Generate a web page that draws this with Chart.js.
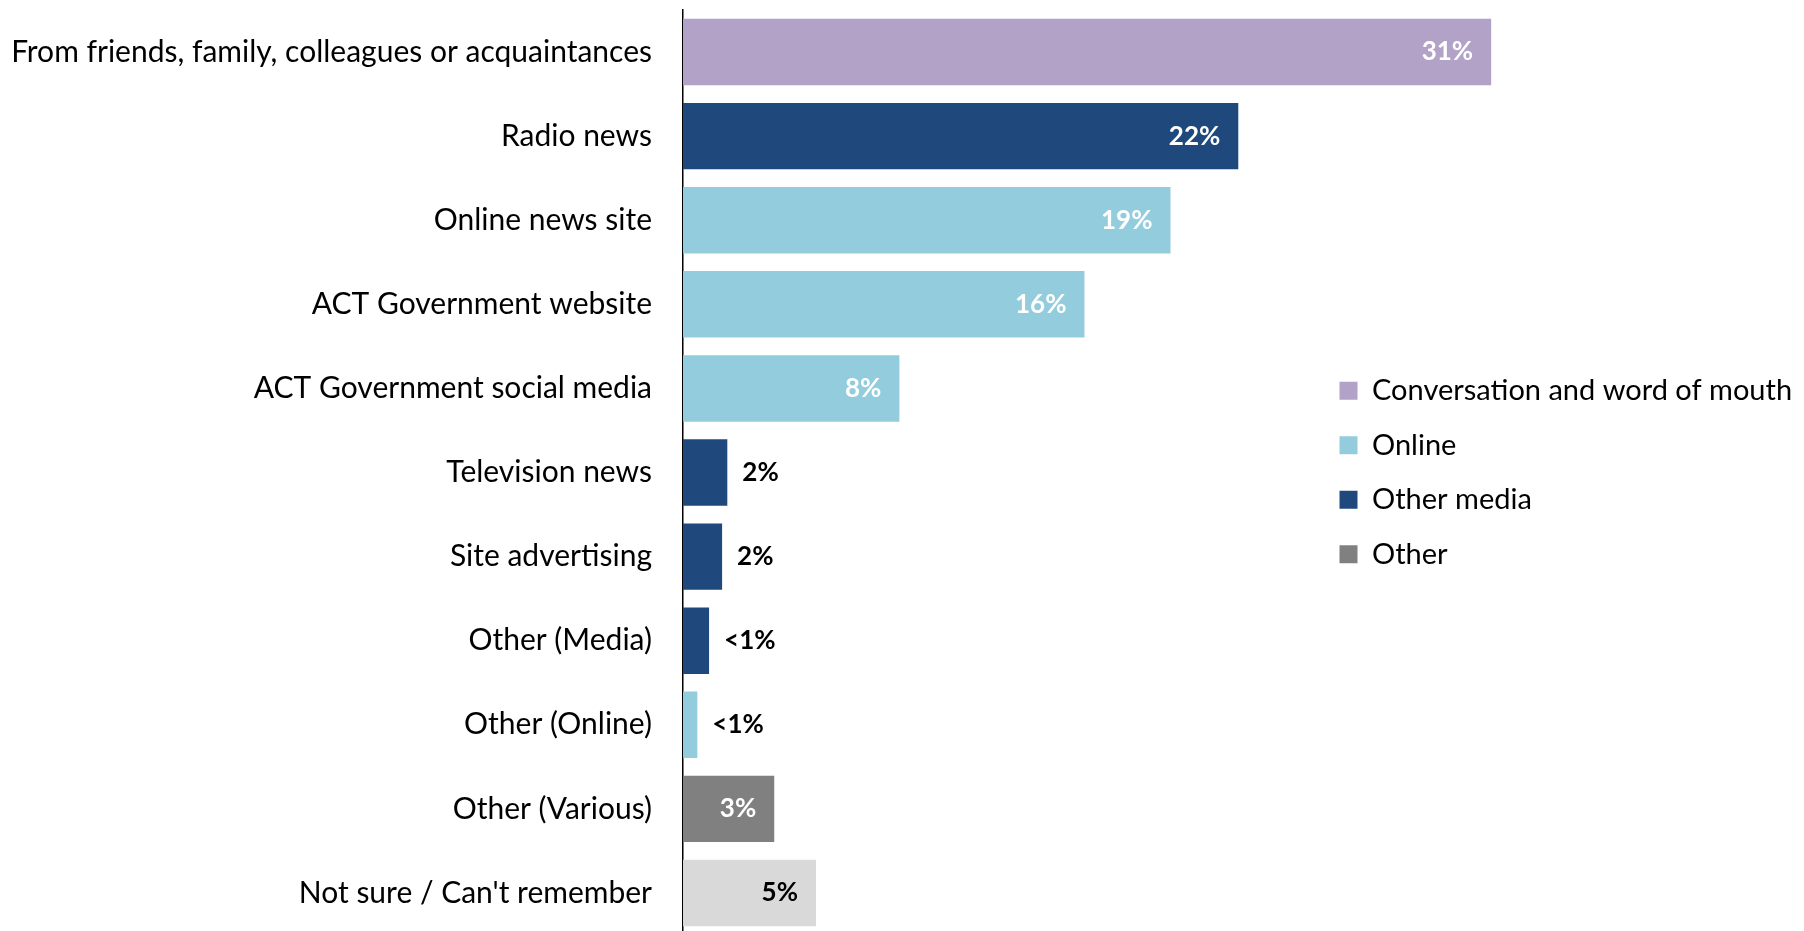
<!DOCTYPE html>
<html>
<head>
<meta charset="utf-8">
<script src="https://cdn.jsdelivr.net/npm/chart.js@4.4.0/dist/chart.umd.min.js"></script>
<style>
  html, body { margin: 0; padding: 0; background: #fff; overflow: hidden; }
  #wrap { width: 1804px; height: 935px; position: relative; }
</style>
</head>
<body>
<div id="wrap"><canvas id="chart"></canvas></div>
<script>
// categories, top to bottom
const categories = [
  'From friends, family, colleagues or acquaintances',
  'Radio news',
  'Online news site',
  'ACT Government website',
  'ACT Government social media',
  'Television news',
  'Site advertising',
  'Other (Media)',
  'Other (Online)',
  'Other (Various)',
  "Not sure / Can't remember"
];
// which legend group each bar belongs to
const groupOf = [
  'Conversation and word of mouth', 'Other media', 'Online', 'Online', 'Online',
  'Other media', 'Other media', 'Other media', 'Online', 'Other', 'Not sure'
];
// bar lengths (%)
const shares = [31, 21.3, 18.7, 15.4, 8.3, 1.7, 1.5, 1.0, 0.55, 3.5, 5.1];
// printed labels
const shareLabels = ['31%', '22%', '19%', '16%', '8%', '2%', '2%', '<1%', '<1%', '3%', '5%'];

const groups = ['Conversation and word of mouth', 'Online', 'Other media', 'Other', 'Not sure'];
const groupColors = ['#B3A2C7', '#93CDDD', '#1F497D', '#808080', '#D9D9D9'];

const FONT = 'Lato, "Open Sans", sans-serif';

const datasets = groups.map((g, k) => ({
  label: g,
  data: shares.map((v, i) => groupOf[i] === g ? v : null),
  backgroundColor: groupColors[k],
  borderWidth: 0,
  barPercentage: 0.79,
  categoryPercentage: 1
}));

// value labels: inside end (white) for long bars, just past the end for short ones
const valueLabels = {
  id: 'valueLabels',
  afterDatasetsDraw(chart) {
    const ctx = chart.ctx;
    ctx.save();
    ctx.font = 'bold 26px ' + FONT;
    ctx.textBaseline = 'middle';
    chart.data.datasets.forEach((ds, di) => {
      const meta = chart.getDatasetMeta(di);
      meta.data.forEach((bar, i) => {
        const v = ds.data[i];
        if (v === null) return;
        if (v >= 3) {
          ctx.textAlign = 'right';
          ctx.fillStyle = ds.label === 'Not sure' ? '#000' : '#fff';
          ctx.fillText(shareLabels[i], bar.x - 18, bar.y);
        } else {
          ctx.textAlign = 'left';
          ctx.fillStyle = '#000';
          ctx.fillText(shareLabels[i], bar.x + 15, bar.y);
        }
      });
    });
    ctx.restore();
  }
};

// move the legend to the right-hand side of the plot
const legendPlace = {
  id: 'legendPlace',
  afterLayout(chart) {
    const lg = chart.legend;
    lg.left = 1314;
    lg.top = chart.chartArea.top;
    lg.bottom = chart.chartArea.bottom;
  }
};

new Chart(document.getElementById('chart'), {
  type: 'bar',
  data: { labels: categories, datasets: datasets },
  options: {
    indexAxis: 'y',
    responsive: true,
    maintainAspectRatio: false,
    animation: false,
    layout: { padding: { top: 10, bottom: 0, left: 0, right: 0 } },
    scales: {
      x: {
        stacked: true,
        display: false,
        min: 0,
        max: 43
      },
      y: {
        stacked: true,
        grid: { display: false, drawTicks: false },
        border: { display: true, color: '#000', width: 1.5 },
        ticks: {
          color: '#000',
          font: { family: FONT, size: 30 },
          padding: 31
        },
        afterFit(scale) {
          scale.width = 683;
          scale.paddingTop = 0;
          scale.paddingBottom = 0;
        }
      }
    },
    plugins: {
      tooltip: { enabled: false },
      legend: {
        position: 'chartArea',
        align: 'center',
        labels: {
          color: '#000',
          font: { family: FONT, size: 29 },
          boxWidth: 18,
          boxHeight: 18,
          padding: 25.5,
          filter: item => item.text !== 'Not sure'
        }
      }
    }
  },
  plugins: [valueLabels, legendPlace]
});
</script>
